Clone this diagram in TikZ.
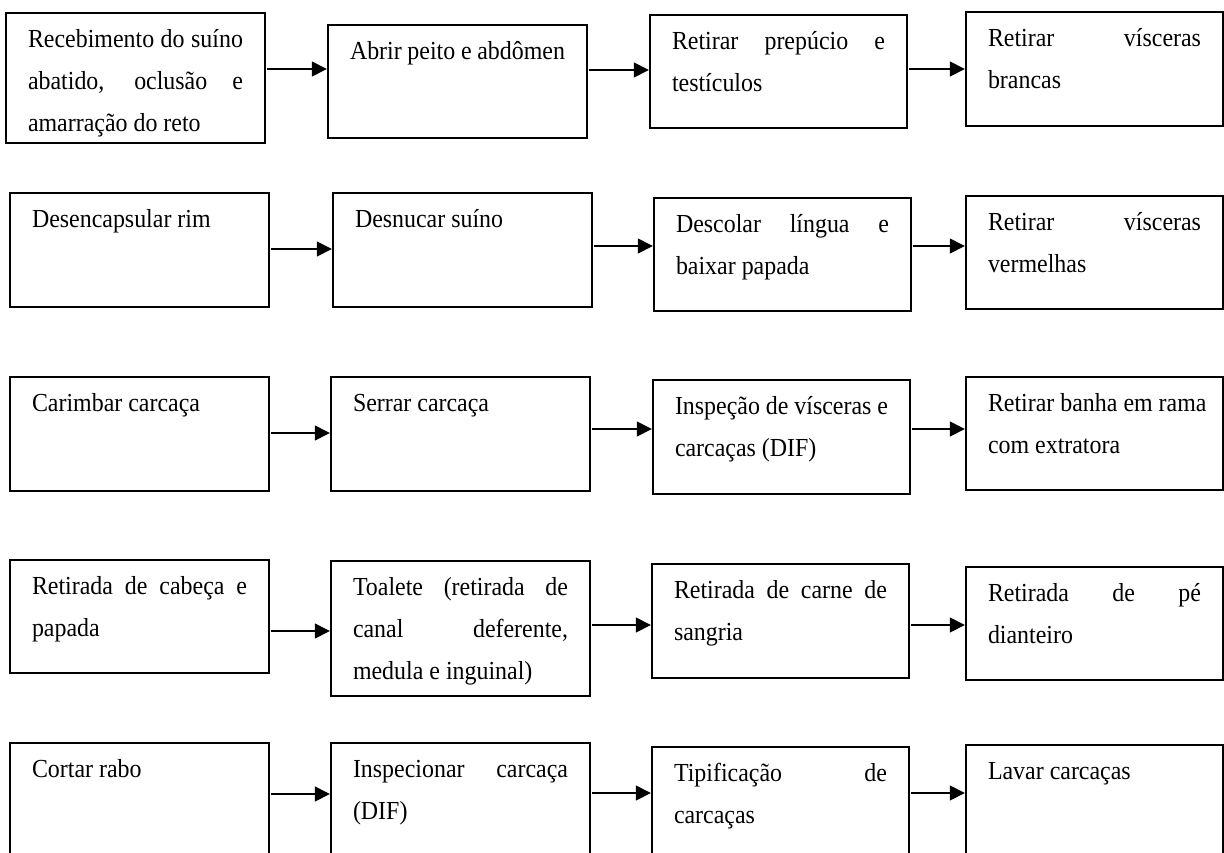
\documentclass[tikz,border=0pt]{standalone}
\usepackage{fontspec}
\setmainfont{Liberation Serif}[FakeStretch=0.92]
\usetikzlibrary{arrows.meta}
\newcommand{\firststrut}{\rule{0pt}{34pt}}
\newcommand{\boxtxt}[3]{\parbox[t][#1pt][t]{#2pt}{\firststrut#3}}
\tikzset{
  stepbox/.style={draw=black, line width=2.5pt, inner xsep=22pt, inner ysep=0pt,
    outer sep=0pt, anchor=north west, font=\fontsize{26pt}{42pt}\selectfont},
  flowarrow/.style={draw=black, line width=1.5pt, -{Triangle[length=15pt,width=15pt]},
    shorten <=1.5pt, shorten >=1.2pt}
}
\begin{document}
\begin{tikzpicture}[x=1pt, y=-1pt]
\path[use as bounding box] (0,0) rectangle (1224,852);
\clip (0,0) rectangle (1224,852);
% row 1
\node[stepbox] (A) at (6,13) {\boxtxt{130}{215}{Recebimento do suíno\linebreak abatido, oclusão e\linebreak amarração do reto}};
\node[stepbox] (B) at (328,25) {\boxtxt{113}{215}{Abrir peito e abdômen}};
\node[stepbox] (C) at (650,15) {\boxtxt{113}{213}{Retirar prepúcio e\linebreak testículos}};
\node[stepbox] (D) at (966,12) {\boxtxt{114}{213}{Retirar vísceras\linebreak brancas}};
% row 2
\node[stepbox] (E) at (10,193) {\boxtxt{114}{215}{Desencapsular rim}};
\node[stepbox] (F) at (333,193) {\boxtxt{114}{215}{Desnucar suíno}};
\node[stepbox] (G) at (654,198) {\boxtxt{113}{213}{Descolar língua e\linebreak baixar papada}};
\node[stepbox] (H) at (966,196) {\boxtxt{113}{213}{Retirar vísceras\linebreak vermelhas}};
% row 3
\node[stepbox] (I) at (10,377) {\boxtxt{114}{215}{Carimbar carcaça}};
\node[stepbox] (J) at (331,377) {\boxtxt{114}{215}{Serrar carcaça}};
\node[stepbox] (K) at (653,380) {\boxtxt{114}{213}{Inspeção de vísceras e\linebreak carcaças (DIF)}};
\node[stepbox] (L) at (966,377) {\boxtxt{113}{213}{\mbox{Retirar banha em rama}\newline com extratora}};
% row 4
\node[stepbox] (M) at (10,560) {\boxtxt{113}{215}{Retirada de cabeça e\linebreak papada}};
\node[stepbox] (N) at (331,561) {\boxtxt{135}{215}{Toalete (retirada de\linebreak canal deferente,\linebreak medula e inguinal)}};
\node[stepbox] (O) at (652,564) {\boxtxt{114}{213}{Retirada de carne de\linebreak sangria}};
\node[stepbox] (P) at (966,567) {\boxtxt{113}{213}{Retirada de pé\linebreak dianteiro}};
% row 5
\node[stepbox] (Q) at (10,743) {\boxtxt{130}{215}{Cortar rabo}};
\node[stepbox] (R) at (331,743) {\boxtxt{130}{215}{Inspecionar carcaça\linebreak (DIF)}};
\node[stepbox] (S) at (652,747) {\boxtxt{130}{213}{Tipificação de\linebreak carcaças}};
\node[stepbox] (T) at (966,745) {\boxtxt{130}{213}{Lavar carcaças}};
% arrow levels
\coordinate (yAB) at (0,69);  \coordinate (yBC) at (0,70);  \coordinate (yCD) at (0,69);
\coordinate (yEF) at (0,249); \coordinate (yFG) at (0,246); \coordinate (yGH) at (0,246);
\coordinate (yIJ) at (0,433); \coordinate (yJK) at (0,429); \coordinate (yKL) at (0,429);
\coordinate (yMN) at (0,631); \coordinate (yNO) at (0,625); \coordinate (yOP) at (0,625);
\coordinate (yQR) at (0,794); \coordinate (yRS) at (0,793); \coordinate (yST) at (0,793);
% connectors
\draw[flowarrow] (A.east |- yAB) -- (B.west |- yAB);
\draw[flowarrow] (B.east |- yBC) -- (C.west |- yBC);
\draw[flowarrow] (C.east |- yCD) -- (D.west |- yCD);
\draw[flowarrow] (E.east |- yEF) -- (F.west |- yEF);
\draw[flowarrow] (F.east |- yFG) -- (G.west |- yFG);
\draw[flowarrow] (G.east |- yGH) -- (H.west |- yGH);
\draw[flowarrow] (I.east |- yIJ) -- (J.west |- yIJ);
\draw[flowarrow] (J.east |- yJK) -- (K.west |- yJK);
\draw[flowarrow] (K.east |- yKL) -- (L.west |- yKL);
\draw[flowarrow] (M.east |- yMN) -- (N.west |- yMN);
\draw[flowarrow] (N.east |- yNO) -- (O.west |- yNO);
\draw[flowarrow] (O.east |- yOP) -- (P.west |- yOP);
\draw[flowarrow] (Q.east |- yQR) -- (R.west |- yQR);
\draw[flowarrow] (R.east |- yRS) -- (S.west |- yRS);
\draw[flowarrow] (S.east |- yST) -- (T.west |- yST);
\end{tikzpicture}
\end{document}
